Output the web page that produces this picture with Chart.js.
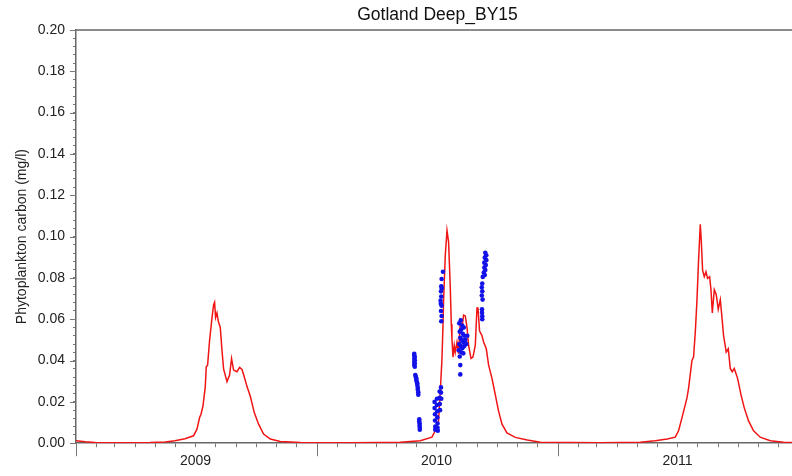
<!DOCTYPE html>
<html>
<head>
<meta charset="utf-8">
<script src="https://cdn.jsdelivr.net/npm/chart.js@4.4.0/dist/chart.umd.min.js"></script>
<style>
  html, body { margin: 0; padding: 0; background: #fff; overflow: hidden; }
  #wrap { width: 805px; height: 476px; }
</style>
</head>
<body>
<div id="wrap"><canvas id="chart" width="805" height="476"></canvas></div>
<script>
// x values are days since 1 Jan 2009
const modelDays = [
  0, 14, 29, 67, 112, 135, 150, 165, 178, 183.2, 187.2, 189.3, 192.3, 195.8, 197.3, 199.3,
  202.3, 206, 208.4, 209.9, 211.4, 213.5, 215.5, 218.5, 221.1, 223.5, 228.7, 232.6, 235.6,
  238.7, 243.8, 247.8, 251.4, 254.9, 259, 264, 270, 276.5, 284.1, 294.3, 309.4, 339.7,
  415, 461, 491, 521.4, 539.1, 544.1, 549.1, 551.7, 554.3, 555.8, 556.7, 559.3, 561.9,
  564.3, 566.9, 568.4, 569.4, 571, 572.9, 574.4, 577, 579.4, 582, 584.6, 587, 589.6,
  592.2, 594.6, 598.2, 601.2, 604.7, 607.3, 608.8, 611.2, 612.3, 614.9, 617.3, 621.4,
  624.9, 630, 635, 640, 645.2, 652.7, 665.3, 683.5, 703.2,
  794, 854.5, 877.2, 895.5, 907.6, 912.6, 917.8, 922.8, 925.3, 927.8, 932.9, 935.3, 937.9,
  940.5, 942.9, 945.5, 947, 949, 951.5, 954.1, 956.5, 959.6, 961.7, 963.7, 966.7, 969.7,
  972.7, 975.8, 977.7, 980.8, 984.8, 987.9, 990.9, 993.9, 997, 1002, 1007.1, 1012.1,
  1018.6, 1026.2, 1036.3, 1051.5, 1071.6, 1089.4, 1095
];
const modelCarbon = [
  0.0012, 0.0007, 0.0003, 0.0002, 0.0003, 0.0006, 0.0012, 0.0022, 0.0036, 0.0068, 0.0124, 0.014, 0.018, 0.0274, 0.037, 0.0378,
  0.0497, 0.0608, 0.067, 0.0682, 0.0608, 0.063, 0.059, 0.056, 0.045, 0.036, 0.0298, 0.033, 0.041,
  0.0354, 0.0346, 0.0367, 0.0357, 0.032, 0.0274, 0.0227, 0.0148, 0.0092, 0.0044, 0.002, 0.0008, 0.0003,
  0.0002, 0.0003, 0.0005, 0.0012, 0.0029, 0.006, 0.0108, 0.025, 0.041, 0.057, 0.069, 0.091, 0.1029,
  0.0973, 0.075, 0.0576, 0.0505, 0.0417, 0.0473, 0.044, 0.0489, 0.0433, 0.059, 0.056, 0.062, 0.0616,
  0.056, 0.0473, 0.041, 0.0417, 0.0473, 0.0655, 0.0655, 0.0544, 0.0536, 0.052, 0.049, 0.0457,
  0.0378, 0.0314, 0.0235, 0.0155, 0.0092, 0.005, 0.0028, 0.0015, 0.0005,
  0.0002, 0.0005, 0.0012, 0.002, 0.0029, 0.006, 0.0124, 0.0187, 0.0219, 0.0267, 0.0401, 0.0417, 0.0536,
  0.0695, 0.0886, 0.106, 0.098, 0.0838, 0.0806, 0.083, 0.0798, 0.0806, 0.0743, 0.0631, 0.0743, 0.0719,
  0.0648, 0.0695, 0.0631, 0.052, 0.0441, 0.0457, 0.0362, 0.0346, 0.0362, 0.0314, 0.0235, 0.0171,
  0.0108, 0.006, 0.0029, 0.0012, 0.0005, 0.0003, 0.0003
];

// measured samples
const obsDays = [
  512.3, 512.3, 513.1, 512.3, 513.1, 512.3, 513.1, 512.3, 513.1,
  513.9, 514.6, 515.4, 515.4, 516.1, 516.9, 516.9, 517.6, 517.6, 518.4, 518.4,
  519.9, 519.9, 520.4, 520.4, 520.7, 520.7,
  543.1, 543.1, 543.7, 543.7, 544.1, 544.1, 546.7, 546.7, 547.2, 547.2, 547.6, 547.6, 548,
  550.7, 550.7, 551, 551.3, 552.8, 552.8, 553.2,
  555.8, 553.7, 553.2, 552.8, 553.2, 552.2, 553.7, 552.8, 553.7, 553.2, 554, 552.5,
  580.5, 582.8, 585, 587.3, 583.5, 581.2, 585.8, 588.1, 582, 584.3, 586.6, 589.6,
  580.5, 582.8, 585, 588.1, 591.1, 583.5, 586.6, 581.2, 582, 582, 592.6, 579.7,
  619.9, 621.4, 619.1, 621.4, 618.4, 620.6, 618.4, 619.9, 617.6, 619.1, 616.1,
  615.3, 614.6, 615.3, 614.6, 615.8, 614.9, 614.9, 615.3, 615.3
];
const obsCarbon = [
  0.0433, 0.0425, 0.0417, 0.0409, 0.0401, 0.0393, 0.0386, 0.0378, 0.037,
  0.033, 0.0322, 0.0314, 0.0306, 0.0298, 0.029, 0.0282, 0.027, 0.0259, 0.0247, 0.0235,
  0.0116, 0.0105, 0.0095, 0.0085, 0.0075, 0.0065,
  0.020, 0.017, 0.014, 0.011, 0.008, 0.0065, 0.0215, 0.0185, 0.0155, 0.0125, 0.0095, 0.0075, 0.006,
  0.025, 0.022, 0.019, 0.016, 0.027, 0.0245, 0.0215,
  0.083, 0.0795, 0.076, 0.0735, 0.071, 0.069, 0.0665, 0.064, 0.0616, 0.059, 0.075, 0.0675,
  0.058, 0.0595, 0.057, 0.056, 0.055, 0.054, 0.053, 0.052, 0.051, 0.050, 0.049, 0.050,
  0.048, 0.047, 0.046, 0.047, 0.048, 0.044, 0.0435, 0.042, 0.0378, 0.0333, 0.052, 0.045,
  0.0922, 0.091, 0.0898, 0.0886, 0.0874, 0.0862, 0.085, 0.0838, 0.0826, 0.0814, 0.0805,
  0.0773, 0.0755, 0.0735, 0.0715, 0.0695, 0.0648, 0.0632, 0.0615, 0.060
];

const yearLabels = ["2009", "2010", "2011"];
const yearMidDays = [181, 546, 911];     // 1 July of each year
const yearStartDays = [0, 365, 730, 1095];

// month boundaries for the minor ticks on the time axis
const DAY = 86400000;
const origin = Date.UTC(2009, 0, 1);
const monthStarts = [];
for (let yr = 2009; yr <= 2012; yr++) {
  for (let m = 0; m < 12; m++) {
    const d = Math.round((Date.UTC(yr, m, 1) - origin) / DAY);
    if (d <= 1095) monthStarts.push(d);
  }
}
const yTickValues = [];
for (let i = 0; i <= 50; i++) yTickValues.push(+(i * 0.004).toFixed(3));

const axisGrey = "#666";
const tickGrey = "#777";

// top frame line plus the longer ticks at years and labelled values
const framePlugin = {
  id: "frame",
  afterDraw(chart) {
    const { ctx, chartArea: a, scales } = chart;
    ctx.save();
    ctx.strokeStyle = axisGrey;
    ctx.lineWidth = 1.5;
    ctx.beginPath();
    ctx.moveTo(a.left, a.top);
    ctx.lineTo(a.right, a.top);
    ctx.stroke();

    ctx.strokeStyle = tickGrey;
    ctx.lineWidth = 1;
    ctx.beginPath();
    yearStartDays.forEach(d => {
      const px = Math.round(scales.x.getPixelForValue(d)) + 0.5;
      ctx.moveTo(px, a.bottom);
      ctx.lineTo(px, a.bottom + 13);
    });
    yTickValues.forEach((v, i) => {
      if (i % 5 !== 0) return;
      const py = Math.round(scales.y.getPixelForValue(v)) + 0.5;
      ctx.moveTo(a.left, py);
      ctx.lineTo(a.left - 6, py);
    });
    ctx.stroke();
    ctx.restore();
  }
};

Chart.defaults.font.family = "'Liberation Sans', Arial, sans-serif";
Chart.defaults.color = "#222";

new Chart(document.getElementById("chart"), {
  data: {
    datasets: [
      {
        type: "scatter",
        label: "observed",
        data: obsDays.map((d, i) => ({ x: d, y: obsCarbon[i] })),
        backgroundColor: "#1212e8",
        borderColor: "#1212e8",
        pointRadius: 2.3,
        borderWidth: 0,
        order: 0
      },
      {
        type: "line",
        label: "model",
        data: modelDays.map((d, i) => ({ x: d, y: modelCarbon[i] })),
        borderColor: "#f01414",
        borderWidth: 1.5,
        pointRadius: 0,
        tension: 0,
        fill: false,
        order: 1
      }
    ]
  },
  options: {
    responsive: false,
    animation: false,
    devicePixelRatio: 1,
    layout: { padding: { left: 0, right: 0, top: 0, bottom: 0 } },
    plugins: {
      legend: { display: false },
      tooltip: { enabled: false },
      title: {
        display: true,
        text: "Gotland Deep_BY15",
        fullSize: false,
        color: "#111",
        font: { size: 17.5, weight: "normal" },
        padding: { top: 5, bottom: 4 }
      }
    },
    scales: {
      x: {
        type: "linear",
        min: 0,
        max: 1095,
        afterBuildTicks: s => { s.ticks = monthStarts.map(v => ({ value: v })); },
        ticks: {
          autoSkip: false,
          maxRotation: 0,
          padding: 6,
          font: { size: 14 },
          callback: v => {
            const k = yearMidDays.indexOf(v);
            return k >= 0 ? yearLabels[k] : "";
          }
        },
        grid: { drawOnChartArea: false, tickLength: 4, tickColor: tickGrey, tickWidth: 1 },
        border: { color: axisGrey, width: 1.5 }
      },
      y: {
        min: 0,
        max: 0.2,
        afterBuildTicks: s => { s.ticks = yTickValues.map(v => ({ value: v })); },
        afterFit: s => { s.width = 76; },
        ticks: {
          autoSkip: false,
          padding: 8,
          font: { size: 14 },
          callback: (v, i) => (i % 5 === 0 ? v.toFixed(2) : "")
        },
        grid: { drawOnChartArea: false, tickLength: 3, tickColor: tickGrey, tickWidth: 1 },
        border: { color: axisGrey, width: 1.5 },
        title: {
          display: true,
          text: "Phytoplankton carbon (mg/l)",
          font: { size: 14 },
          color: "#222",
          padding: { top: 14, bottom: 0 }
        }
      }
    }
  },
  plugins: [framePlugin]
});
</script>
</body>
</html>
